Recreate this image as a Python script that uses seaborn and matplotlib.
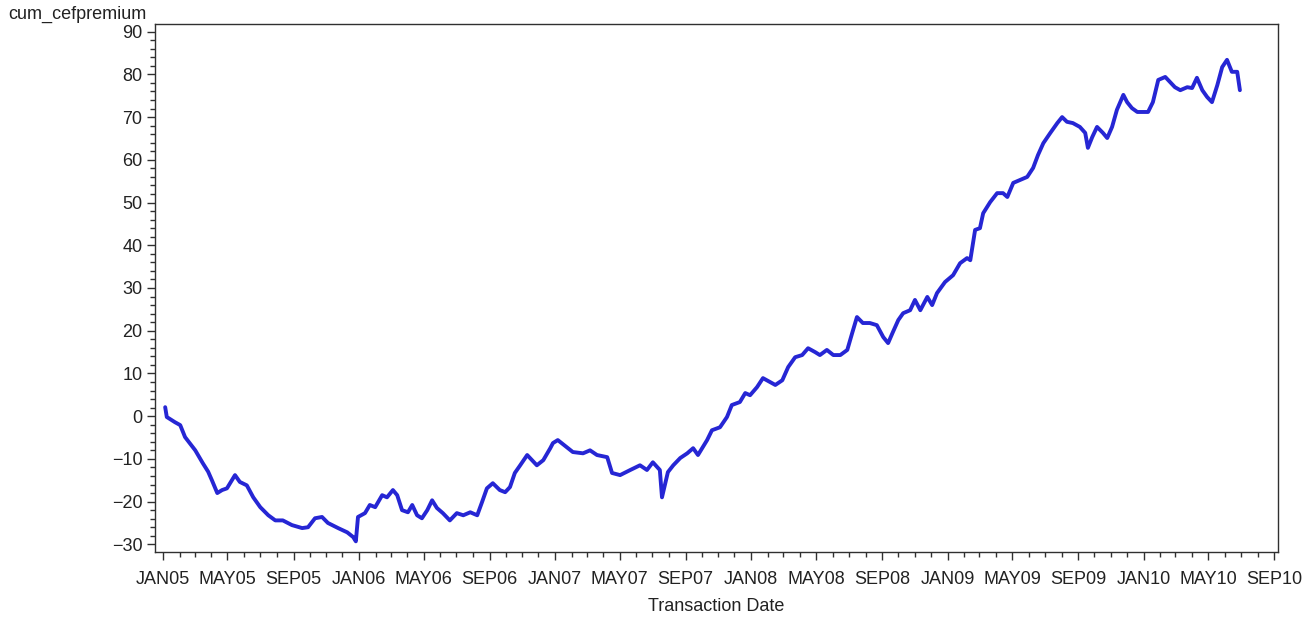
import numpy as np
import pandas as pd
import matplotlib
matplotlib.use("Agg")
import matplotlib.pyplot as plt
import matplotlib.dates as mdates
import seaborn as sns

# Cumulative closed-end fund premium, sampled roughly every one to two weeks
dates = [
    "2005-01-05", "2005-01-08", "2005-01-23", "2005-02-02", "2005-02-11", "2005-03-02",
    "2005-03-16", "2005-03-26", "2005-04-02", "2005-04-12", "2005-04-21", "2005-04-30",
    "2005-05-15", "2005-05-24", "2005-06-06", "2005-06-18", "2005-07-01", "2005-07-16",
    "2005-07-29", "2005-08-12", "2005-08-29", "2005-09-17", "2005-09-28", "2005-10-11",
    "2005-10-24", "2005-11-04", "2005-11-23", "2005-12-10", "2005-12-21", "2005-12-26",
    "2005-12-30", "2006-01-12", "2006-01-21", "2006-01-31", "2006-02-13", "2006-02-22",
    "2006-03-05", "2006-03-13", "2006-03-22", "2006-04-02", "2006-04-10", "2006-04-19",
    "2006-04-28", "2006-05-08", "2006-05-17", "2006-05-26", "2006-06-06", "2006-06-19",
    "2006-07-02", "2006-07-14", "2006-07-27", "2006-08-09", "2006-08-18", "2006-08-27",
    "2006-09-07", "2006-09-20", "2006-09-30", "2006-10-09", "2006-10-18", "2006-10-28",
    "2006-11-10", "2006-11-19", "2006-11-28", "2006-12-10", "2006-12-23", "2006-12-28",
    "2007-01-06", "2007-01-23", "2007-02-03", "2007-02-22", "2007-03-07", "2007-03-20",
    "2007-04-08", "2007-04-17", "2007-05-02", "2007-05-21", "2007-06-08", "2007-06-21",
    "2007-07-02", "2007-07-15", "2007-07-19", "2007-07-30", "2007-08-09", "2007-08-22",
    "2007-09-04", "2007-09-15", "2007-09-24", "2007-10-11", "2007-10-20", "2007-11-04",
    "2007-11-17", "2007-11-26", "2007-12-11", "2007-12-21", "2007-12-30", "2008-01-12",
    "2008-01-23", "2008-02-05", "2008-02-15", "2008-02-28", "2008-03-10", "2008-03-23",
    "2008-04-05", "2008-04-16", "2008-04-29", "2008-05-08", "2008-05-21", "2008-06-02",
    "2008-06-15", "2008-06-28", "2008-07-07", "2008-07-16", "2008-07-27", "2008-08-09",
    "2008-08-22", "2008-09-03", "2008-09-12", "2008-09-21", "2008-10-01", "2008-10-10",
    "2008-10-23", "2008-11-01", "2008-11-11", "2008-11-24", "2008-12-03", "2008-12-12",
    "2008-12-27", "2009-01-11", "2009-01-24", "2009-02-06", "2009-02-12", "2009-02-21",
    "2009-03-02", "2009-03-08", "2009-03-21", "2009-04-03", "2009-04-14", "2009-04-22",
    "2009-05-03", "2009-05-16", "2009-05-29", "2009-06-09", "2009-06-18", "2009-06-28",
    "2009-07-11", "2009-07-24", "2009-08-02", "2009-08-11", "2009-08-22", "2009-09-04",
    "2009-09-14", "2009-09-19", "2009-09-27", "2009-10-06", "2009-10-17", "2009-10-25",
    "2009-11-03", "2009-11-12", "2009-11-24", "2009-12-01", "2009-12-10", "2009-12-20",
    "2009-12-31", "2010-01-09", "2010-01-18", "2010-01-28", "2010-02-10", "2010-02-19",
    "2010-02-28", "2010-03-10", "2010-03-23", "2010-04-01", "2010-04-10", "2010-04-20",
    "2010-04-29", "2010-05-08", "2010-05-18", "2010-05-27", "2010-06-05", "2010-06-14",
    "2010-06-24", "2010-06-29",
]
cum_cefpremium = [
    2.1, -0.2, -1.4, -2.1, -4.9, -8.0,
    -11.0, -13.0, -15.0, -18.0, -17.3, -16.9,
    -13.8, -15.4, -16.2, -19.0, -21.3, -23.2,
    -24.4, -24.4, -25.5, -26.2, -26.0, -23.9,
    -23.6, -25.0, -26.2, -27.2, -28.3, -29.3,
    -23.6, -22.7, -20.8, -21.3, -18.5, -19.0,
    -17.3, -18.5, -22.0, -22.5, -20.8, -23.2,
    -23.9, -22.0, -19.7, -21.5, -22.7, -24.4,
    -22.7, -23.2, -22.5, -23.2, -20.1, -16.9,
    -15.7, -17.3, -17.8, -16.6, -13.3, -11.5,
    -9.1, -10.3, -11.5, -10.3, -7.5, -6.3,
    -5.6, -7.3, -8.4, -8.7, -8.0, -9.1,
    -9.6, -13.3, -13.8, -12.6, -11.5, -12.6,
    -10.8, -12.6, -19.0, -13.1, -11.5, -9.8,
    -8.7, -7.5, -9.1, -5.6, -3.3, -2.6,
    -0.2, 2.6, 3.3, 5.4, 4.9, 6.8,
    8.9, 8.0, 7.3, 8.4, 11.5, 13.8,
    14.3, 15.9, 15.0, 14.3, 15.5, 14.3,
    14.3, 15.5, 19.4, 23.2, 21.8, 21.8,
    21.3, 18.5, 17.1, 19.7, 22.5, 24.1,
    24.8, 27.2, 24.8, 27.9, 26.0, 28.8,
    31.4, 33.0, 35.8, 37.0, 36.5, 43.6,
    44.0, 47.5, 50.1, 52.2, 52.2, 51.3,
    54.6, 55.3, 56.0, 58.1, 61.1, 63.9,
    66.3, 68.6, 70.0, 68.9, 68.6, 67.7,
    66.3, 62.8, 65.3, 67.7, 66.3, 65.1,
    67.7, 71.7, 75.2, 73.5, 72.1, 71.2,
    71.2, 71.2, 73.5, 78.7, 79.4, 78.2,
    77.0, 76.3, 77.0, 76.8, 79.2, 76.3,
    74.7, 73.5, 77.5, 81.7, 83.4, 80.6,
    80.6, 76.3,
]
y_ticks = [-30, -20, -10, 0, 10, 20, 30, 40, 50, 60, 70, 80, 90]

df = pd.DataFrame({"Transaction Date": pd.to_datetime(dates),
                   "cum_cefpremium": cum_cefpremium})

sns.set_style("ticks")
plt.rcParams["font.family"] = ["Liberation Sans", "DejaVu Sans"]

fig = plt.figure(figsize=(13.1, 6.21), dpi=100)
ax = fig.add_axes([0.1183, 0.1111, 0.8573, 0.8503])

sns.lineplot(data=df, x="Transaction Date", y="cum_cefpremium", ax=ax,
             color="#2626d4", linewidth=2.8, estimator=None)

ax.set_xlim(pd.Timestamp("2004-12-17"), pd.Timestamp("2010-09-08"))
ax.set_ylim(-31.8, 91.8)

ax.xaxis.set_major_locator(mdates.MonthLocator(bymonth=[1, 5, 9]))
ax.xaxis.set_minor_locator(mdates.MonthLocator())
ax.xaxis.set_major_formatter(
    plt.FuncFormatter(lambda v, p: mdates.num2date(v).strftime("%b%y").upper()))
ax.set_yticks(y_ticks)
ax.yaxis.set_minor_locator(matplotlib.ticker.MultipleLocator(2))

for spine in ax.spines.values():
    spine.set_visible(True)
    spine.set_color("#303030")
    spine.set_linewidth(1.0)

ax.tick_params(axis="both", which="major", length=6, width=1.0, color="#303030",
               labelsize=13, labelcolor="#222222")
ax.tick_params(axis="x", which="major", pad=8)
ax.tick_params(axis="y", which="major", pad=3)
ax.tick_params(axis="both", which="minor", length=3.5, width=1.0, color="#303030")

ax.set_xlabel("Transaction Date", fontsize=13, color="#222222", labelpad=7)
ax.set_ylabel("")
fig.text(8 / 1310, 1 - 14 / 621, "cum_cefpremium", fontsize=13,
         color="#222222", ha="left", va="center")

fig.savefig("out.png", dpi=100, facecolor="white")
